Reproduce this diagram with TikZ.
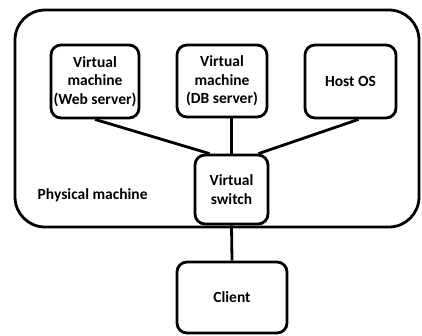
\documentclass[tikz,border=0pt]{standalone}
\usepackage{fontspec}
\setmainfont{Carlito}
\usetikzlibrary{positioning}

\begin{document}
\begin{tikzpicture}[x=1pt, y=-1pt, line width=2.8pt,
    box/.style={draw, rounded corners=10pt, align=center, inner sep=1pt,
      font=\bfseries\fontsize{15.5}{18.5}\selectfont}]
  \useasboundingbox (0,0) rectangle (422,335);
  \node[box, minimum width=404pt, minimum height=217pt, rounded corners=30pt] (phys) at (217,118.5) {};
  \node[anchor=west, font=\bfseries\fontsize{15.5}{18.5}\selectfont] (physlabel) at (33,195) {Physical machine};
  \node[box, minimum width=88pt, minimum height=73pt] (web) at (95,81.5) {Virtual\\machine\\(Web server)};
  \node[box, minimum width=90pt, minimum height=72pt] (db) at (222,81) {Virtual\\machine\\(DB server)};
  \node[box, minimum width=91pt, minimum height=73pt] (host) at (350.5,81.5) {Host OS};
  \node[box, minimum width=73pt, minimum height=69pt] (sw) at (231.5,189.5) {Virtual\\switch};
  \node[box, minimum width=110pt, minimum height=71pt] (client) at (232,297.5) {Client};
  \draw (web.south) -- ([xshift=-22pt]sw.north);
  \draw (sw.north) -- (sw.north |- db.south);
  \draw ([xshift=8pt]host.south) -- ([xshift=27pt]sw.north);
  \draw (sw.south) -- (client.north);
\end{tikzpicture}
\end{document}
